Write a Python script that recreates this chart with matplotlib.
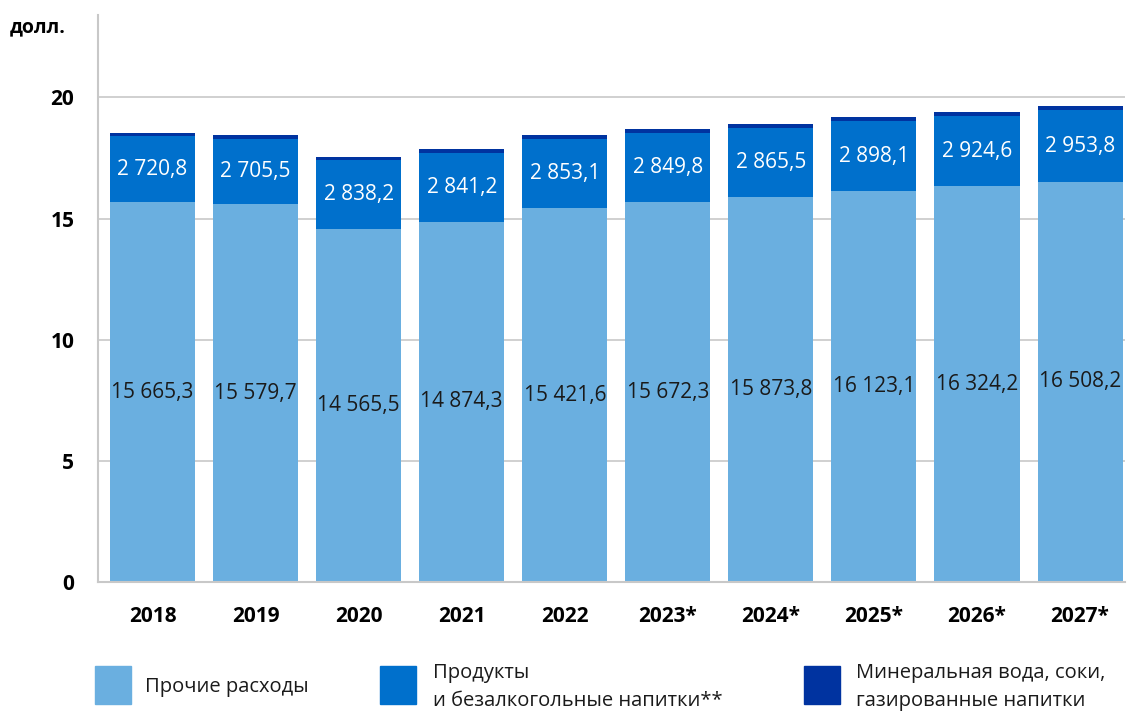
import matplotlib
matplotlib.use("Agg")
import matplotlib.pyplot as plt
from matplotlib.patches import Rectangle

plt.rcParams['font.family'] = ['Open Sans', 'DejaVu Sans']

years = ["2018", "2019", "2020", "2021", "2022", "2023*", "2024*", "2025*", "2026*", "2027*"]
other = [15665.3, 15579.7, 14565.5, 14874.3, 15421.6, 15672.3, 15873.8, 16123.1, 16324.2, 16508.2]
food = [2720.8, 2705.5, 2838.2, 2841.2, 2853.1, 2849.8, 2865.5, 2898.1, 2924.6, 2953.8]
drinks = [135.0, 145.0, 125.0, 140.0, 155.0, 160.0, 150.0, 160.0, 135.0, 170.0]

c_other = "#6aafe0"
c_food = "#0070cc"
c_drinks = "#0033a0"


def fmt(v):
    s = f"{v:,.1f}".replace(",", " ").replace(".", ",")
    return s


fig = plt.figure(figsize=(11.39, 7.13), dpi=100)
ax = fig.add_axes([98 / 1139, 1 - 582 / 713, (1125 - 98) / 1139, (582 - 15) / 713])

x = list(range(len(years)))
o = [v / 1000 for v in other]
f = [v / 1000 for v in food]
d = [v / 1000 for v in drinks]
w = 0.825
ax.bar(x, o, width=w, color=c_other, zorder=2)
ax.bar(x, f, width=w, bottom=o, color=c_food, zorder=2)
ax.bar(x, d, width=w, bottom=[a + b for a, b in zip(o, f)], color=c_drinks, zorder=2)

for i in x:
    ax.text(i, o[i] / 2, fmt(other[i]), ha="center", va="center", fontsize=15, color="#1a1a1a", zorder=3)
    ax.text(i, o[i] + f[i] / 2, fmt(food[i]), ha="center", va="center", fontsize=15, color="white", zorder=3)

ax.set_xlim(-0.529, 9.436)
ax.set_ylim(0, 23.4)
ax.set_yticks([0, 5, 10, 15, 20])
ax.set_yticklabels(["0", "5", "10", "15", "20"], fontsize=15, fontweight="bold")
ax.set_xticks(x)
ax.set_xticklabels(years, fontsize=15, fontweight="bold")
ax.tick_params(axis="both", length=0)
ax.tick_params(axis="y", pad=17)
ax.tick_params(axis="x", pad=17)
ax.grid(axis="y", color="#c8c8c8", linewidth=1.2, zorder=0)
for s in ["top", "right"]:
    ax.spines[s].set_visible(False)
for s in ["left", "bottom"]:
    ax.spines[s].set_color("#c8c8c8")
    ax.spines[s].set_linewidth(1.5)

fig.text(10 / 1139, 1 - 27 / 713, "долл.", fontsize=14, fontweight="bold", va="center", ha="left")

# legend
items = [
    (95, c_other, "Прочие расходы", 145),
    (380, c_food, "Продукты\nи безалкогольные напитки**", 433),
    (804, c_drinks, "Минеральная вода, соки,\nгазированные напитки", 856),
]
for x0, col, label, tx in items:
    fig.patches.append(Rectangle((x0 / 1139, 1 - 704 / 713), 36 / 1139, 38 / 713,
                                 transform=fig.transFigure, color=col))
    fig.text(tx / 1139, 1 - 687 / 713, label, fontsize=14.5, va="center", ha="left",
             linespacing=1.55, color="#1a1a1a")

fig.savefig("out.png", dpi=100)
